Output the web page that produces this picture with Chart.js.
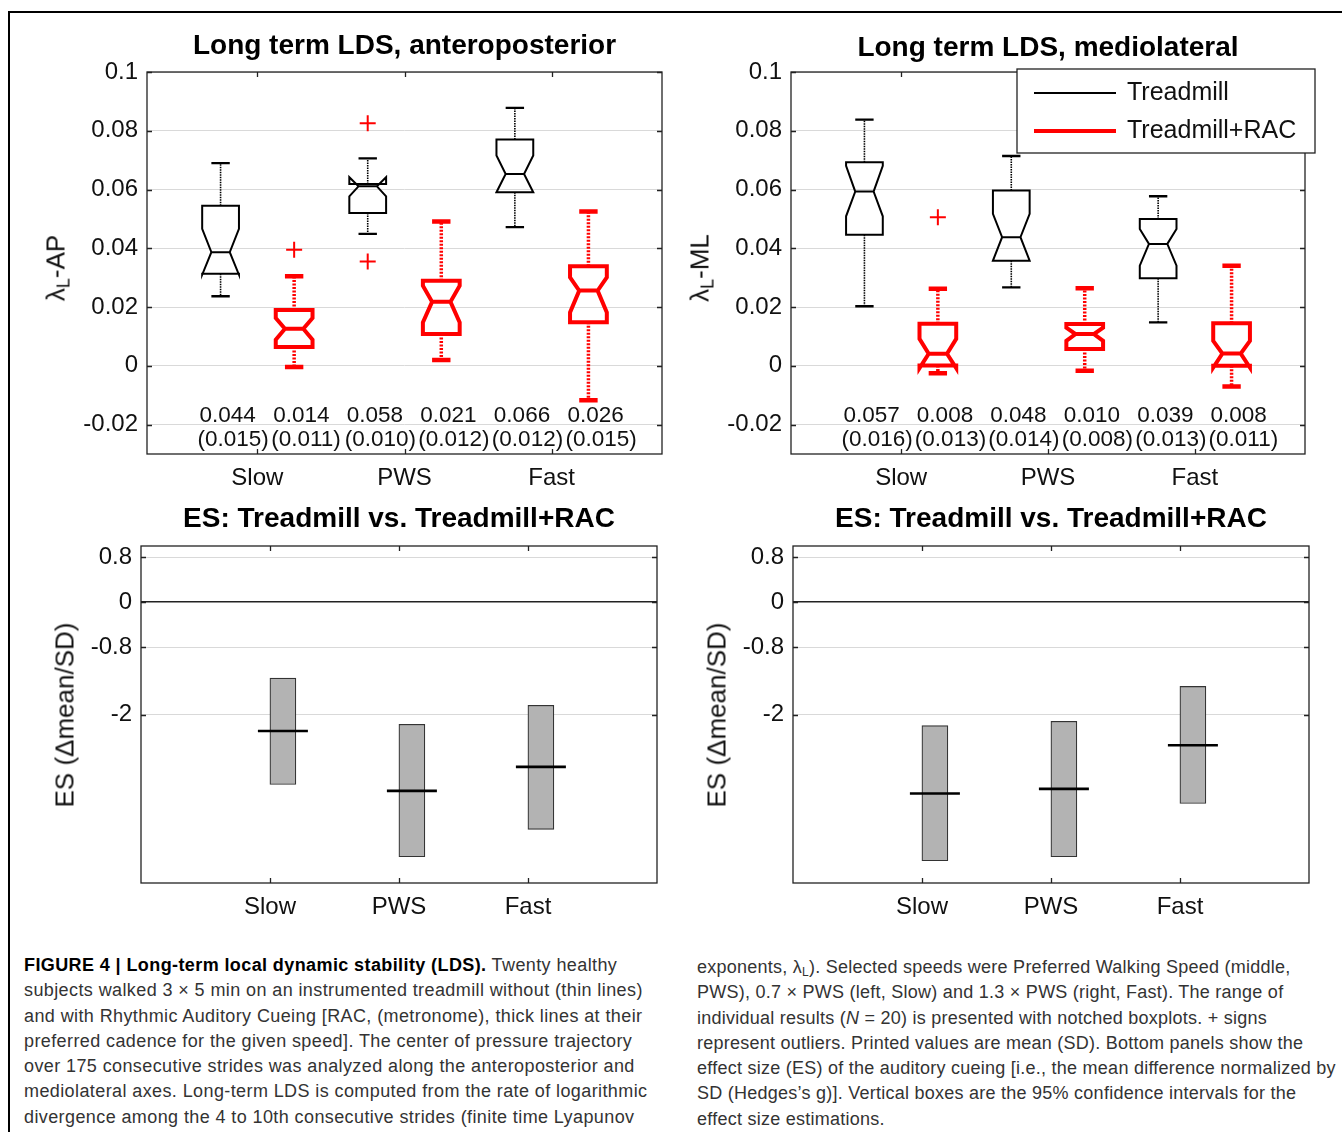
<!DOCTYPE html>
<html>
<head>
<meta charset="utf-8">
<script src="https://cdn.jsdelivr.net/npm/chart.js@4.4.1/dist/chart.umd.min.js"></script>
<style>
body { margin:0; background:#fff; width:1342px; height:1132px; position:relative; overflow:hidden; font-family:"Liberation Sans", Arial, sans-serif; }
.frame { position:absolute; left:8px; top:11px; right:0; bottom:0; border-top:2px solid #000; border-left:2px solid #000; }
canvas { position:absolute; }
.ylab { position:absolute; font-size:26px; color:#111; white-space:nowrap; transform:translate(-50%,-50%) rotate(-90deg); }
.ylab sub { font-size:18px; vertical-align:-5px; line-height:0; }
.cap { position:absolute; font-size:18px; letter-spacing:0.4px; color:#333; line-height:25.3px; white-space:nowrap; }
.cap b { color:#000; }
.cap sub { font-size:12px; line-height:0; vertical-align:-3px; }
</style>
</head>
<body>
<div class="frame"></div>
<canvas id="ap" width="660" height="480" style="left:20px;top:20px"></canvas>
<canvas id="ml" width="676" height="480" style="left:664px;top:20px"></canvas>
<canvas id="esap" width="660" height="440" style="left:20px;top:494px"></canvas>
<canvas id="esml" width="676" height="440" style="left:664px;top:494px"></canvas>

<div class="ylab" style="left:56px;top:268px">λ<sub>L</sub>-AP</div>
<div class="ylab" style="left:700px;top:268px">λ<sub>L</sub>-ML</div>
<div class="ylab" style="left:65px;top:715px">ES (Δmean/SD)</div>
<div class="ylab" style="left:717px;top:715px">ES (Δmean/SD)</div>

<div class="cap" style="left:24px;top:953px"><b>FIGURE 4 | Long-term local dynamic stability (LDS).</b> Twenty healthy<br>subjects walked 3 × 5 min on an instrumented treadmill without (thin lines)<br>and with Rhythmic Auditory Cueing [RAC, (metronome), thick lines at their<br>preferred cadence for the given speed]. The center of pressure trajectory<br>over 175 consecutive strides was analyzed along the anteroposterior and<br>mediolateral axes. Long-term LDS is computed from the rate of logarithmic<br>divergence among the 4 to 10th consecutive strides (finite time Lyapunov</div>
<div class="cap" style="left:697px;top:955px;letter-spacing:0.25px">exponents, λ<sub>L</sub>). Selected speeds were Preferred Walking Speed (middle,<br>PWS), 0.7 × PWS (left, Slow) and 1.3 × PWS (right, Fast). The range of<br>individual results (<i>N</i> = 20) is presented with notched boxplots. + signs<br>represent outliers. Printed values are mean (SD). Bottom panels show the<br>effect size (ES) of the auditory cueing [i.e., the mean difference normalized by<br>SD (Hedges’s g)]. Vertical boxes are the 95% confidence intervals for the<br>effect size estimations.</div>

<script>
const categories = ['Slow', 'PWS', 'Fast'];
const conditions = ['Treadmill', 'Treadmill+RAC'];
const conditionColors = ['#000000', '#ff0000'];

// boxes in order: Slow-T, Slow-RAC, PWS-T, PWS-RAC, Fast-T, Fast-RAC
const apWhiskerLo = [0.0237, -0.0004, 0.0449, 0.0020, 0.0472, -0.0117];
const apQ1        = [0.0313, 0.0064, 0.0520, 0.0108, 0.0591, 0.0148];
const apNotchLo   = [0.0310, 0.0089, 0.0577, 0.0148, 0.0591, 0.0182];
const apMedian    = [0.0387, 0.0126, 0.0611, 0.0218, 0.0653, 0.0256];
const apNotchHi   = [0.0466, 0.0163, 0.0642, 0.0273, 0.0716, 0.0301];
const apQ3        = [0.0545, 0.0190, 0.0619, 0.0290, 0.0770, 0.0339];
const apWhiskerHi = [0.0690, 0.0305, 0.0706, 0.0491, 0.0878, 0.0525];
const apMean = [0.044, 0.014, 0.058, 0.021, 0.066, 0.026];
const apSD   = [0.015, 0.011, 0.010, 0.012, 0.012, 0.015];
const apOutlierBox = [2, 3, 3];
const apOutlierVal = [0.0395, 0.0826, 0.0355];

const mlWhiskerLo = [0.0203, -0.0025, 0.0267, -0.0017, 0.0148, -0.0070];
const mlQ1        = [0.0446, 0.0001, 0.0358, 0.0057, 0.0298, 0.0000];
const mlNotchLo   = [0.0509, -0.0008, 0.0358, 0.0085, 0.0341, -0.0006];
const mlMedian    = [0.0593, 0.0041, 0.0438, 0.0108, 0.0415, 0.0042];
const mlNotchHi   = [0.0681, 0.0092, 0.0517, 0.0130, 0.0466, 0.0085];
const mlQ3        = [0.0693, 0.0143, 0.0597, 0.0142, 0.0500, 0.0145];
const mlWhiskerHi = [0.0838, 0.0262, 0.0714, 0.0264, 0.0577, 0.0341];
const mlMean = [0.057, 0.008, 0.048, 0.010, 0.039, 0.008];
const mlSD   = [0.016, 0.013, 0.014, 0.008, 0.013, 0.011];
const mlOutlierBox = [2];
const mlOutlierVal = [0.0506];

// effect sizes (Hedges's g) with 95% CI
const esApLo   = [-3.247, -4.533, -4.047];
const esApHi   = [-1.351, -2.175, -1.837];
const esApMean = [-2.293, -3.360, -2.933];
const esMlLo   = [-4.604, -4.533, -3.585];
const esMlHi   = [-2.199, -2.121, -1.499];
const esMlMean = [-3.407, -3.324, -2.548];

const ldsTicks = [-0.02, 0, 0.02, 0.04, 0.06, 0.08, 0.1];
const esTicks = [-2, -0.8, 0, 0.8];

const FONT = '"Liberation Sans", Arial, sans-serif';
Chart.defaults.font.family = FONT;
Chart.defaults.color = '#111';

const fmt = v => String(+Number(v).toFixed(3));

// MATLAB style box: frame + inward ticks on all sides
const framePlugin = {
  id: 'frame',
  afterDraw(chart) {
    const {ctx, chartArea: a, scales: {x, y}} = chart;
    ctx.save();
    ctx.strokeStyle = '#222';
    ctx.lineWidth = 1.3;
    ctx.beginPath();
    y.ticks.forEach(t => {
      const py = Math.round(y.getPixelForValue(t.value)) + 0.5;
      ctx.moveTo(a.left, py); ctx.lineTo(a.left + 5, py);
      ctx.moveTo(a.right, py); ctx.lineTo(a.right - 5, py);
    });
    x.ticks.forEach(t => {
      const px = Math.round(x.getPixelForValue(t.value)) + 0.5;
      ctx.moveTo(px, a.bottom); ctx.lineTo(px, a.bottom - 5);
      ctx.moveTo(px, a.top); ctx.lineTo(px, a.top + 5);
    });
    ctx.stroke();
    ctx.strokeRect(a.left, a.top, a.right - a.left, a.bottom - a.top);
    ctx.restore();
  }
};

function notchBoxPlugin(s) {
  return {
    id: 'notchBoxes',
    afterDatasetsDraw(chart) {
      const {ctx, chartArea: a, scales: {x, y}} = chart;
      const Y = v => y.getPixelForValue(v);
      ctx.save();
      s.median.forEach((m, i) => {
        const cond = i % 2;
        const pos = i + 1;
        const cx = x.getPixelForValue(pos);
        const hw = x.getPixelForValue(pos + 0.25) - cx;
        ctx.strokeStyle = conditionColors[cond];
        // whiskers
        ctx.lineWidth = cond ? 3.5 : 1.6;
        ctx.setLineDash(cond ? [2, 1.5] : [1.5, 1]);
        ctx.beginPath();
        ctx.moveTo(cx, Y(s.q3[i])); ctx.lineTo(cx, Y(s.whiHi[i]));
        ctx.moveTo(cx, Y(s.q1[i])); ctx.lineTo(cx, Y(s.whiLo[i]));
        ctx.stroke();
        ctx.setLineDash([]);
        // caps
        ctx.lineWidth = cond ? 4.5 : 2.4;
        ctx.beginPath();
        ctx.moveTo(cx - hw / 2, Y(s.whiHi[i])); ctx.lineTo(cx + hw / 2, Y(s.whiHi[i]));
        ctx.moveTo(cx - hw / 2, Y(s.whiLo[i])); ctx.lineTo(cx + hw / 2, Y(s.whiLo[i]));
        ctx.stroke();
        // notched box
        const L = cx - hw, R = cx + hw, iL = cx - hw / 2, iR = cx + hw / 2;
        ctx.lineWidth = cond ? 4 : 2;
        ctx.lineJoin = 'miter';
        ctx.beginPath();
        ctx.moveTo(L, Y(s.q1[i]));
        ctx.lineTo(L, Y(s.notchLo[i]));
        ctx.lineTo(iL, Y(m));
        ctx.lineTo(L, Y(s.notchHi[i]));
        ctx.lineTo(L, Y(s.q3[i]));
        ctx.lineTo(R, Y(s.q3[i]));
        ctx.lineTo(R, Y(s.notchHi[i]));
        ctx.lineTo(iR, Y(m));
        ctx.lineTo(R, Y(s.notchLo[i]));
        ctx.lineTo(R, Y(s.q1[i]));
        ctx.closePath();
        ctx.moveTo(iL, Y(m)); ctx.lineTo(iR, Y(m));
        ctx.stroke();
        // printed mean (SD)
        ctx.fillStyle = '#111';
        ctx.font = '22.5px ' + FONT;
        ctx.textAlign = 'left';
        ctx.textBaseline = 'middle';
        ctx.fillText(s.mean[i].toFixed(3), cx - 21, a.bottom - 38);
        ctx.fillText('(' + s.sd[i].toFixed(3) + ')', cx - 23, a.bottom - 14);
      });
      ctx.restore();
    }
  };
}

const legendPlugin = {
  id: 'ldsLegend',
  afterDraw(chart) {
    const {ctx, chartArea: a} = chart;
    const L = a.right - 288, T = a.top - 3, W = 298, H = 84;
    ctx.save();
    ctx.fillStyle = '#fff';
    ctx.fillRect(L, T, W, H);
    ctx.strokeStyle = '#222';
    ctx.lineWidth = 1.3;
    ctx.strokeRect(L, T, W, H);
    ctx.font = '25px ' + FONT;
    ctx.textBaseline = 'middle';
    conditions.forEach((c, k) => {
      const yy = T + 24 + k * 38;
      ctx.strokeStyle = conditionColors[k];
      ctx.lineWidth = k ? 4 : 2;
      ctx.beginPath(); ctx.moveTo(L + 17, yy); ctx.lineTo(L + 99, yy); ctx.stroke();
      ctx.fillStyle = '#111';
      ctx.fillText(c, L + 110, yy);
    });
    ctx.restore();
  }
};

function fixX(h) {
  return s => { s.height = h; s.paddingLeft = 0; s.paddingRight = 0; };
}

function ldsChart(id, title, stats, outBox, outVal, padRight, titleTop, extra) {
  return new Chart(document.getElementById(id), {
    type: 'scatter',
    data: {
      datasets: [{
        label: 'outliers',
        data: outBox.map((b, k) => ({x: b, y: outVal[k]})),
        pointStyle: 'cross', radius: 8, borderWidth: 2,
        borderColor: '#ff0000', backgroundColor: '#ff0000'
      }]
    },
    options: {
      responsive: false, animation: false, devicePixelRatio: 1,
      layout: {autoPadding: false, padding: {left: 0, right: padRight, top: 0, bottom: 0}},
      plugins: {
        legend: {display: false}, tooltip: {enabled: false},
        title: {display: true, text: title, fullSize: false, color: '#000',
          font: {size: 28, weight: 'bold'}, padding: {top: titleTop, bottom: 18.4 - titleTop}}
      },
      scales: {
        x: {
          type: 'linear', min: 0, max: 7,
          afterBuildTicks: s => { s.ticks = categories.map((c, i) => ({value: 2 * i + 1.5})); },
          afterFit: fixX(46),
          ticks: {callback: (v, i) => categories[i], font: {size: 24}, color: '#111', padding: 10, maxRotation: 0, autoSkip: false},
          grid: {display: false, drawTicks: false}, border: {display: false}
        },
        y: {
          min: -0.03, max: 0.1,
          afterBuildTicks: s => { s.ticks = ldsTicks.map(v => ({value: v})); },
          afterFit: s => { s.width = 127; },
          ticks: {callback: fmt, font: {size: 24}, color: '#111', padding: 9},
          grid: {color: '#d9d9d9', lineWidth: 1, drawTicks: false}, border: {display: false}
        }
      }
    },
    plugins: [notchBoxPlugin(stats), framePlugin].concat(extra || [])
  });
}

function esChart(id, lo, hi, mean, padRight, axisWidth, titleTop) {
  return new Chart(document.getElementById(id), {
    type: 'bar',
    data: {
      datasets: [
        {
          type: 'scatter', label: 'ES', order: 0,
          data: categories.map((c, i) => ({x: i + 1.1, y: mean[i]})),
          pointStyle: 'line', radius: 25, borderWidth: 2.6, borderColor: '#000'
        },
        {
          type: 'bar', label: '95% CI', order: 1,
          data: categories.map((c, i) => ({x: i + 1.1, y: [lo[i], hi[i]]})),
          backgroundColor: '#b3b3b3', borderColor: '#333', borderWidth: 1.2,
          borderSkipped: false, barThickness: 26, grouped: false
        }
      ]
    },
    options: {
      responsive: false, animation: false, devicePixelRatio: 1,
      layout: {autoPadding: false, padding: {left: 0, right: padRight, top: 0, bottom: 0}},
      plugins: {
        legend: {display: false}, tooltip: {enabled: false},
        title: {display: true, text: 'ES: Treadmill vs. Treadmill+RAC', fullSize: false, color: '#000',
          font: {size: 28, weight: 'bold'}, padding: {top: titleTop, bottom: 18.4 - titleTop}}
      },
      scales: {
        x: {
          type: 'linear', min: 0, max: 4, offset: false,
          afterBuildTicks: s => { s.ticks = categories.map((c, i) => ({value: i + 1})); },
          afterFit: fixX(51),
          ticks: {callback: (v, i) => categories[i], font: {size: 24}, color: '#111', padding: 10, maxRotation: 0, autoSkip: false},
          grid: {display: false, drawTicks: false}, border: {display: false}
        },
        y: {
          min: -5, max: 1,
          afterBuildTicks: s => { s.ticks = esTicks.map(v => ({value: v})); },
          afterFit: s => { s.width = axisWidth; },
          ticks: {callback: fmt, font: {size: 24}, color: '#111', padding: 9},
          grid: {
            color: c => (c.tick && c.tick.value === 0) ? '#222' : '#d9d9d9',
            lineWidth: c => (c.tick && c.tick.value === 0) ? 1.5 : 1,
            drawTicks: false
          },
          border: {display: false}
        }
      }
    },
    plugins: [framePlugin]
  });
}

ldsChart('ap', 'Long term LDS, anteroposterior',
  {whiLo: apWhiskerLo, q1: apQ1, notchLo: apNotchLo, median: apMedian, notchHi: apNotchHi, q3: apQ3, whiHi: apWhiskerHi, mean: apMean, sd: apSD},
  apOutlierBox, apOutlierVal, 18, 9.2);
ldsChart('ml', 'Long term LDS, mediolateral',
  {whiLo: mlWhiskerLo, q1: mlQ1, notchLo: mlNotchLo, median: mlMedian, notchHi: mlNotchHi, q3: mlQ3, whiHi: mlWhiskerHi, mean: mlMean, sd: mlSD},
  mlOutlierBox, mlOutlierVal, 35, 11.2, [legendPlugin]);
esChart('esap', esApLo, esApHi, esApMean, 23, 121, 8.2);
esChart('esml', esMlLo, esMlHi, esMlMean, 31, 129, 8.2);
</script>
</body>
</html>
